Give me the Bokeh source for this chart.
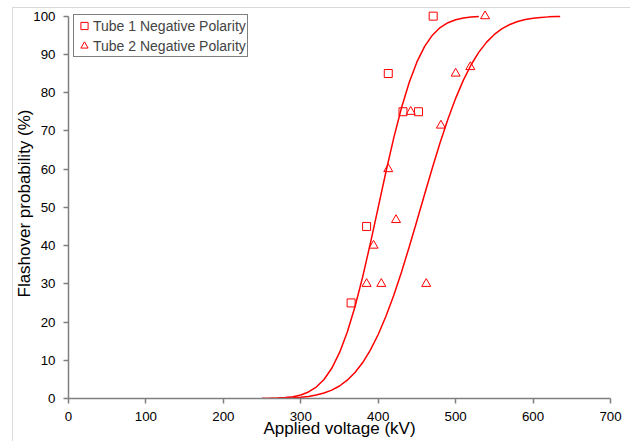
from bokeh.plotting import figure
from bokeh.models import Range1d, Legend, LegendItem, FixedTicker, InlineStyleSheet
from bokeh.embed import file_html
from bokeh.resources import INLINE

# --- data ---
tube1_v = [365, 385, 413, 432, 452, 471]
tube1_p = [25, 45, 85, 75, 75, 100]
tube2_v = [385, 404, 394, 413, 423, 442, 462, 481, 500, 519, 538]
tube2_p = [30, 30, 40, 60, 46.7, 75, 30, 71.4, 85, 86.7, 100]

# fitted curves
fit1_v = [250, 260, 270, 280, 290, 300, 310, 320, 330, 340, 350, 360, 370, 380, 390,
          400, 410, 420, 430, 440, 450, 460, 470, 480, 490, 500, 510, 520, 530]
fit1_p = [0.02, 0.05, 0.11, 0.24, 0.48, 0.93, 1.71, 2.99, 4.98, 7.90, 11.98, 17.33,
          24.01, 31.89, 40.70, 50.00, 59.30, 68.11, 75.99, 82.67, 88.02, 92.10, 95.02,
          97.01, 98.29, 99.07, 99.52, 99.76, 99.89]
fit2_v = [250, 260, 270, 280, 290, 300, 310, 320, 330, 340, 350, 360, 370, 380, 390,
          400, 410, 420, 430, 440, 450, 460, 470, 480, 490, 500, 510, 520, 530, 540,
          550, 560, 570, 580, 590, 600, 610, 620, 630, 635]
fit2_p = [0.02, 0.03, 0.06, 0.11, 0.19, 0.33, 0.55, 0.89, 1.42, 2.18, 3.27, 4.78, 6.80,
          9.41, 12.71, 16.73, 21.50, 26.96, 33.04, 39.63, 46.50, 53.50, 60.37, 66.96,
          73.04, 78.50, 83.27, 87.29, 90.59, 93.20, 95.22, 96.73, 97.82, 98.58, 99.11,
          99.45, 99.67, 99.81, 99.89, 99.92]

x_ticks = [0, 100, 200, 300, 400, 500, 600, 700]
y_ticks = [0, 10, 20, 30, 40, 50, 60, 70, 80, 90, 100]

FONT = "Liberation Sans"
RED = "#ff0000"
AXIS = "#7f7f7f"

border_css = InlineStyleSheet(css="""
:host::after {
  content: "";
  position: absolute;
  left: 12px;
  top: 7px;
  width: 618px;
  height: 434px;
  box-sizing: border-box;
  border-top: 1px solid #d9d9d9;
  border-left: 1px solid #d9d9d9;
  pointer-events: none;
  z-index: 10;
}
""")

p = figure(width=635, height=441, output_backend="svg", toolbar_location=None,
           x_range=Range1d(0, 700), y_range=Range1d(0, 102),
           min_border_left=68, min_border_right=25, min_border_top=8, min_border_bottom=43,
           stylesheets=[border_css])
p.outline_line_color = None
p.xgrid.grid_line_color = None
p.ygrid.grid_line_color = None

for ax in (p.xaxis[0], p.yaxis[0]):
    ax.axis_line_color = AXIS
    ax.axis_line_width = 1.5
    ax.major_tick_line_color = AXIS
    ax.major_tick_line_width = 1.5
    ax.major_tick_out = 5
    ax.major_tick_in = 0
    ax.minor_tick_line_color = None
    ax.major_label_text_font = FONT
    ax.major_label_text_font_size = "13.3px"
    ax.major_label_text_color = "black"
    ax.axis_label_text_font = FONT
    ax.axis_label_text_font_size = "17px"
    ax.axis_label_text_font_style = "normal"
    ax.axis_label_text_color = "black"
    ax.major_label_standoff = 8

p.xaxis[0].ticker = FixedTicker(ticks=x_ticks)
p.yaxis[0].ticker = FixedTicker(ticks=y_ticks)
p.yaxis[0].bounds = (0, 100)
p.xaxis[0].axis_label = "Applied voltage (kV)"
p.yaxis[0].axis_label = "Flashover probability (%)"
p.xaxis[0].axis_label_standoff = -5
p.yaxis[0].axis_label_standoff = -4

p.line(fit1_v, fit1_p, line_color=RED, line_width=1.5)
p.line(fit2_v, fit2_p, line_color=RED, line_width=1.5)
r1 = p.scatter(tube1_v, tube1_p, marker="square", size=8, fill_color=None,
               line_color=RED, line_width=1)
r2 = p.scatter(tube2_v, tube2_p, marker="triangle", size=9, fill_color=None,
               line_color=RED, line_width=1)

legend = Legend(items=[LegendItem(label="Tube 1 Negative Polarity", renderers=[r1]),
                       LegendItem(label="Tube 2 Negative Polarity", renderers=[r2])],
                location=(5, 341), margin=0, padding=1, spacing=1,
                glyph_width=18, glyph_height=19, label_height=19, label_standoff=-2,
                label_text_font=FONT, label_text_font_size="14px",
                border_line_color="black", border_line_width=1,
                background_fill_color="white", background_fill_alpha=1)
p.add_layout(legend)

open("out.html", "w").write(file_html(p, INLINE))
